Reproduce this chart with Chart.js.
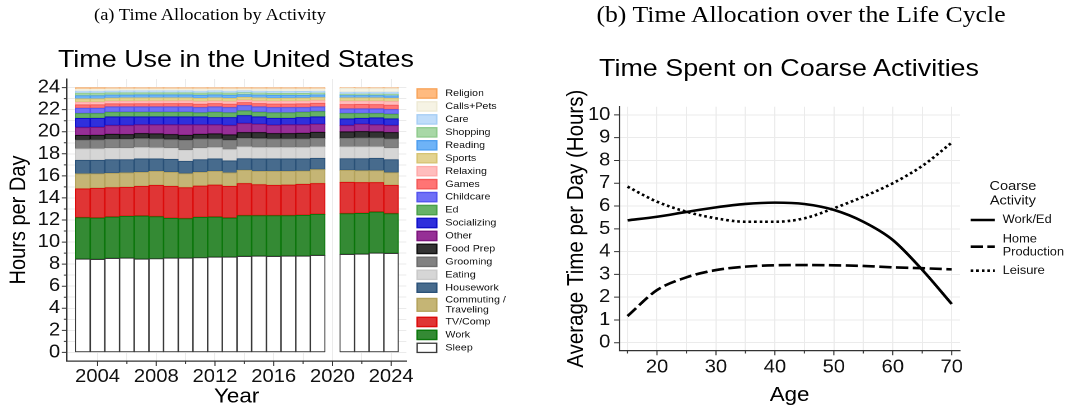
<!DOCTYPE html>
<html>
<head>
<meta charset="utf-8">
<script src="https://cdn.jsdelivr.net/npm/chart.js@4.4.1/dist/chart.umd.min.js"></script>
<style>
  html, body { margin: 0; padding: 0; background: #fff; }
  /* the figure is laid out on a 955px-wide stage and widened to 1070px */
  #stage { position: absolute; left: 0; top: 0; width: 955.36px; height: 412px;
           transform: scaleX(1.12); transform-origin: 0 0; }
  .box { position: absolute; top: 0; height: 412px; }
  .t { position: absolute; white-space: nowrap; text-align: center; color: #000; width: 500px; }
  .sub { font-family: "Liberation Serif", "DejaVu Serif", serif; }
  .subA { font-size: 16.5px; line-height: 16.5px; }
  .subB { font-size: 23px; line-height: 23px; }
  .ttl { font-family: "Liberation Sans", Arial, sans-serif; font-size: 24px; line-height: 24px; }
</style>
</head>
<body>
<div id="stage">
  <div class="box" style="left:0; width:477.7px;"><canvas id="useChart"></canvas></div>
  <div class="box" style="left:477.7px; width:477.7px;"><canvas id="lifeChart"></canvas></div>
  <div class="t sub subA" style="left:-62.5px; top:7.2px;">(a) Time Allocation by Activity</div>
  <div class="t sub subB" style="left:465.2px; top:2.8px;">(b) Time Allocation over the Life Cycle</div>
  <div class="t ttl" style="left:-39.3px; top:46.7px;">Time Use in the United States</div>
  <div class="t ttl" style="left:454.5px; top:55.7px;">Time Spent on Coarse Activities</div>
</div>
<script>
// ---------- (a) hours per day by activity, ATUS survey years ----------
const years = [2003, 2004, 2005, 2006, 2007, 2008, 2009, 2010, 2011, 2012, 2013,
               2014, 2015, 2016, 2017, 2018, 2019, 2021, 2022, 2023, 2024];

const sleep       = [8.47, 8.44, 8.53, 8.56, 8.47, 8.50, 8.56, 8.56, 8.59, 8.65, 8.65, 8.71, 8.74, 8.71, 8.74, 8.74, 8.80, 8.89, 8.92, 9.01, 8.98];
const work        = [3.75, 3.75, 3.75, 3.78, 3.90, 3.81, 3.60, 3.57, 3.66, 3.63, 3.54, 3.69, 3.66, 3.69, 3.66, 3.69, 3.72, 3.69, 3.69, 3.72, 3.60];
const tvComp      = [2.60, 2.69, 2.66, 2.63, 2.69, 2.84, 2.90, 2.81, 2.84, 2.90, 2.87, 2.91, 2.81, 2.75, 2.78, 2.82, 2.79, 2.85, 2.79, 2.67, 2.57];
const commuting   = [1.36, 1.32, 1.30, 1.30, 1.27, 1.27, 1.27, 1.27, 1.24, 1.24, 1.21, 1.21, 1.21, 1.27, 1.24, 1.20, 1.27, 1.07, 1.08, 1.08, 1.15];
const housework   = [1.24, 1.22, 1.24, 1.21, 1.21, 1.12, 1.18, 1.12, 1.15, 1.12, 1.09, 1.05, 1.12, 1.12, 1.12, 1.09, 1.02, 1.07, 1.09, 1.12, 1.18];
const eating      = [1.03, 1.03, 1.03, 1.03, 1.03, 1.00, 1.00, 1.00, 1.03, 1.03, 1.03, 1.06, 1.03, 1.03, 1.03, 1.03, 1.03, 1.06, 1.06, 1.03, 1.03];
const grooming    = [0.80, 0.82, 0.82, 0.82, 0.82, 0.82, 0.79, 0.91, 0.85, 0.79, 0.85, 0.79, 0.82, 0.79, 0.79, 0.79, 0.79, 0.79, 0.82, 0.82, 0.85];
const foodPrep    = [0.42, 0.42, 0.45, 0.42, 0.45, 0.45, 0.45, 0.45, 0.42, 0.45, 0.48, 0.51, 0.54, 0.48, 0.48, 0.51, 0.54, 0.57, 0.57, 0.54, 0.57];
const other       = [0.72, 0.71, 0.79, 0.82, 0.79, 0.82, 0.88, 0.94, 0.85, 0.82, 0.85, 0.82, 0.76, 0.76, 0.79, 0.76, 0.73, 0.58, 0.67, 0.64, 0.64];
const socializing = [0.83, 0.83, 0.78, 0.78, 0.72, 0.72, 0.72, 0.72, 0.72, 0.66, 0.72, 0.73, 0.66, 0.63, 0.60, 0.66, 0.66, 0.60, 0.54, 0.63, 0.60];
const ed          = [0.44, 0.43, 0.43, 0.43, 0.43, 0.43, 0.43, 0.43, 0.37, 0.49, 0.43, 0.42, 0.43, 0.49, 0.49, 0.49, 0.49, 0.49, 0.43, 0.40, 0.43];
const childcare   = [0.48, 0.48, 0.48, 0.48, 0.48, 0.48, 0.48, 0.48, 0.48, 0.48, 0.48, 0.48, 0.48, 0.48, 0.48, 0.42, 0.42, 0.42, 0.42, 0.42, 0.42];
const games       = [0.30, 0.31, 0.28, 0.28, 0.29, 0.29, 0.30, 0.30, 0.31, 0.30, 0.31, 0.27, 0.30, 0.32, 0.32, 0.33, 0.33, 0.39, 0.40, 0.39, 0.40];
const relaxing    = [0.24, 0.24, 0.23, 0.23, 0.23, 0.24, 0.23, 0.24, 0.24, 0.23, 0.24, 0.21, 0.23, 0.24, 0.25, 0.25, 0.25, 0.31, 0.30, 0.31, 0.32];
const sports      = [0.31, 0.30, 0.29, 0.30, 0.29, 0.29, 0.29, 0.28, 0.29, 0.29, 0.29, 0.27, 0.28, 0.28, 0.28, 0.28, 0.27, 0.30, 0.30, 0.30, 0.31];
const reading     = [0.29, 0.29, 0.27, 0.26, 0.27, 0.26, 0.26, 0.26, 0.27, 0.26, 0.27, 0.24, 0.26, 0.26, 0.25, 0.24, 0.23, 0.21, 0.21, 0.21, 0.22];
const shopping    = [0.22, 0.22, 0.20, 0.21, 0.20, 0.20, 0.20, 0.20, 0.20, 0.20, 0.20, 0.18, 0.19, 0.19, 0.19, 0.18, 0.17, 0.12, 0.13, 0.13, 0.14];
const care        = [0.18, 0.18, 0.17, 0.17, 0.17, 0.17, 0.17, 0.17, 0.18, 0.17, 0.18, 0.16, 0.17, 0.18, 0.18, 0.18, 0.17, 0.18, 0.18, 0.18, 0.19];
const callsPets   = [0.20, 0.20, 0.19, 0.18, 0.18, 0.18, 0.18, 0.18, 0.20, 0.18, 0.20, 0.19, 0.20, 0.22, 0.22, 0.23, 0.22, 0.34, 0.32, 0.32, 0.32];
const religion    = [0.12, 0.12, 0.11, 0.11, 0.11, 0.11, 0.11, 0.11, 0.11, 0.11, 0.11, 0.10, 0.11, 0.11, 0.11, 0.11, 0.10, 0.07, 0.08, 0.08, 0.08];

const hourTicks = [0, 1, 2, 3, 4, 5, 6, 7, 8, 9, 10, 11, 12, 13, 14, 15, 16, 17, 18, 19, 20, 21, 22, 23, 24];
const yearTicks = [2004, 2006, 2008, 2010, 2012, 2014, 2016, 2018, 2020, 2022, 2024];

// ---------- (b) life-cycle profiles, hours per day by age ----------
const ages           = [15, 20, 25, 30, 35, 40, 45, 50, 55, 60, 65, 70];
const workEd         = [5.37, 5.53, 5.74, 5.94, 6.09, 6.15, 6.09, 5.83, 5.31, 4.51, 3.20, 1.70];
const homeProduction = [1.17, 2.31, 2.87, 3.19, 3.34, 3.40, 3.41, 3.40, 3.37, 3.31, 3.27, 3.22];
const leisure        = [6.85, 6.19, 5.75, 5.46, 5.31, 5.31, 5.46, 5.90, 6.41, 7.00, 7.76, 8.78];

const levelTicks = [0, 1, 2, 3, 4, 5, 6, 7, 8, 9, 10];
const ageTicks   = [15, 20, 25, 30, 35, 40, 45, 50, 55, 60, 65, 70];

// ---------- styling ----------
const SANS = '"Liberation Sans", Arial, Helvetica, sans-serif';
Chart.defaults.font.family = SANS;
Chart.defaults.color = '#111';
const GRID = '#ebebeb';
const AXIS = '#333';

// stacking order, bottom to top
const activities = [
  { label: 'Sleep',       data: sleep,       fill: '#ffffff', line: '#3a3a3a' },
  { label: 'Work',        data: work,        fill: '#348a34', line: '#0b760b' },
  { label: 'TV/Comp',     data: tvComp,      fill: '#e03535', line: '#dc0c0c' },
  { label: 'Commuting / Traveling', lines: ['Commuting /', 'Traveling'],
                          data: commuting,   fill: '#c5b575', line: '#b3a25c' },
  { label: 'Housework',   data: housework,   fill: '#476b8d', line: '#2a5178' },
  { label: 'Eating',      data: eating,      fill: '#d6d6d6', line: '#c9c9c9' },
  { label: 'Grooming',    data: grooming,    fill: '#818181', line: '#6c6c6c' },
  { label: 'Food Prep',   data: foodPrep,    fill: '#333333', line: '#111111' },
  { label: 'Other',       data: other,       fill: '#962f96', line: '#7c157c' },
  { label: 'Socializing', data: socializing, fill: '#2f2fdc', line: '#1010c8' },
  { label: 'Ed',          data: ed,          fill: '#66b266', line: '#4a9f4a' },
  { label: 'Childcare',   data: childcare,   fill: '#7070f7', line: '#5454ee' },
  { label: 'Games',       data: games,       fill: '#ff7474', line: '#f35a5a' },
  { label: 'Relaxing',    data: relaxing,    fill: '#ffbdbd', line: '#ffaaaa' },
  { label: 'Sports',      data: sports,      fill: '#e3d391', line: '#d6c473' },
  { label: 'Reading',     data: reading,     fill: '#6eb3f7', line: '#4f9fef' },
  { label: 'Shopping',    data: shopping,    fill: '#a8d8a6', line: '#90cb8e' },
  { label: 'Care',        data: care,        fill: '#c0ddfa', line: '#a8cff5' },
  { label: 'Calls+Pets',  data: callsPets,   fill: '#f6f3e4', line: '#eeead6' },
  { label: 'Religion',    data: religion,    fill: '#ffbb80', line: '#f7a55c' }
];

// short tick marks outside the axes (long on labelled values, short between)
const tickMarks = {
  id: 'tickMarks',
  afterDraw(chart, args, opts) {
    const { ctx, chartArea: a, scales: { x, y } } = chart;
    ctx.save();
    ctx.strokeStyle = AXIS;
    ctx.lineWidth = 1;
    ctx.beginPath();
    opts.x.forEach(t => {
      const px = x.getPixelForValue(t.v);
      ctx.moveTo(px, a.bottom); ctx.lineTo(px, a.bottom + t.len);
    });
    opts.y.forEach(t => {
      const py = y.getPixelForValue(t.v);
      ctx.moveTo(a.left, py); ctx.lineTo(a.left - t.len, py);
    });
    ctx.stroke();
    ctx.restore();
  }
};

// blank strip for the year without a survey, keeping its vertical grid line
const yearGap = {
  id: 'yearGap',
  beforeDatasetsDraw(chart, args, opts) {
    const { ctx, chartArea: a, scales: { x } } = chart;
    const l = x.getPixelForValue(opts.year - 0.5);
    const r = x.getPixelForValue(opts.year + 0.5);
    const c = x.getPixelForValue(opts.year);
    ctx.save();
    ctx.fillStyle = '#fff';
    ctx.fillRect(l, a.top, r - l, a.bottom - a.top - 1);
    ctx.strokeStyle = GRID;
    ctx.lineWidth = 1;
    ctx.beginPath(); ctx.moveTo(c, a.top); ctx.lineTo(c, a.bottom - 1); ctx.stroke();
    ctx.restore();
  }
};

// activity key, top of the stack first
const stackLegend = {
  id: 'stackLegend',
  afterDraw(chart, args, o) {
    const ctx = chart.ctx;
    ctx.save();
    ctx.font = o.fontSize + 'px ' + SANS;
    ctx.textBaseline = 'middle';
    ctx.textAlign = 'left';
    const items = chart.data.datasets.slice().reverse();
    let cy = o.top, prevTall = false;
    items.forEach((ds, i) => {
      const lines = ds.legendLines || [ds.label];
      const tall = lines.length > 1;
      if (i > 0) cy += (tall || prevTall) ? o.tallStep : o.step;
      const h = tall ? o.tallBox : o.box;
      ctx.fillStyle = ds.backgroundColor;
      ctx.fillRect(o.x, cy - h / 2, o.boxWidth, h);
      ctx.strokeStyle = ds.borderColor;
      ctx.lineWidth = 1.3;
      ctx.strokeRect(o.x + 0.65, cy - h / 2 + 0.65, o.boxWidth - 1.3, h - 1.3);
      ctx.fillStyle = '#111';
      lines.forEach((s, k) => {
        ctx.fillText(s, o.textX, cy + (k - (lines.length - 1) / 2) * o.lineGap);
      });
      prevTall = tall;
    });
    ctx.restore();
  }
};

// line-type key for the life-cycle panel
const lineLegend = {
  id: 'lineLegend',
  afterDraw(chart, args, o) {
    const ctx = chart.ctx;
    ctx.save();
    ctx.fillStyle = '#111';
    ctx.textBaseline = 'middle';
    ctx.textAlign = 'center';
    ctx.font = o.titleSize + 'px ' + SANS;
    o.title.forEach((s, k) => ctx.fillText(s, o.titleX, o.titleY + k * o.titleGap));
    ctx.textAlign = 'left';
    ctx.font = o.fontSize + 'px ' + SANS;
    chart.data.datasets.forEach((ds, i) => {
      const it = o.items[i];
      ctx.strokeStyle = ds.borderColor;
      ctx.lineWidth = ds.borderWidth;
      ctx.lineCap = 'butt';
      ctx.setLineDash(ds.borderDash || []);
      ctx.beginPath(); ctx.moveTo(o.x0, it.lineY); ctx.lineTo(o.x1, it.lineY); ctx.stroke();
      ctx.setLineDash([]);
      const lines = ds.legendLines || [ds.label];
      lines.forEach((s, k) => {
        ctx.fillText(s, o.textX, it.textY + (k - (lines.length - 1) / 2) * o.lineGap);
      });
    });
    ctx.restore();
  }
};

// ---------- (a) stacked bars ----------
new Chart(document.getElementById('useChart'), {
  type: 'bar',
  data: {
    datasets: activities.map(a => ({
      label: a.label,
      legendLines: a.lines,
      data: years.map((yr, i) => ({ x: yr, y: a.data[i] })),
      backgroundColor: a.fill,
      borderColor: a.line,
      borderWidth: 1,
      borderSkipped: false,
      barPercentage: 1,
      categoryPercentage: 1
    }))
  },
  options: {
    responsive: true,
    maintainAspectRatio: false,
    animation: false,
    devicePixelRatio: 2,
    layout: { padding: { top: 79, right: 115.2, bottom: 0, left: 0 } },
    plugins: {
      legend: { display: false },
      tooltip: { enabled: false },
      title: { display: false },
      yearGap: { year: 2020 },
      tickMarks: {
        x: yearTicks.map(v => ({ v, len: v % 4 === 0 ? 5 : 3 })),
        y: hourTicks.map(v => ({ v, len: v % 2 === 0 ? 4.5 : 2.7 }))
      },
      stackLegend: {
        x: 371.4, boxWidth: 18.75, box: 10.5, tallBox: 14,
        textX: 397.3, top: 93.5, step: 12.95, tallStep: 17.1,
        fontSize: 9.5, lineGap: 10
      }
    },
    scales: {
      x: {
        type: 'linear', stacked: true, offset: false,
        min: 2001.91, max: 2025.04,
        afterBuildTicks: s => { s.ticks = yearTicks.map(v => ({ value: v })); },
        afterFit: s => { s.height = 51; },
        grid: { color: GRID, lineWidth: 1, drawTicks: false, offset: false },
        border: { display: true, color: AXIS, width: 1.2 },
        ticks: { autoSkip: false, maxRotation: 0, padding: 5, font: { size: 18 },
                 callback: v => (v % 4 === 0 ? String(v) : '') },
        title: { display: true, text: 'Year', color: '#000', font: { size: 20 },
                 padding: { top: 0, bottom: 3 } }
      },
      y: {
        stacked: true, min: -0.78, max: 24.78,
        afterBuildTicks: s => { s.ticks = hourTicks.map(v => ({ value: v })); },
        afterFit: s => { s.width = 59.6; },
        grid: { color: GRID, lineWidth: 1, drawTicks: false },
        border: { display: true, color: AXIS, width: 1.2 },
        ticks: { autoSkip: false, padding: 6, font: { size: 18 },
                 callback: v => (v % 2 === 0 ? String(v) : '') },
        title: { display: true, text: 'Hours per Day', color: '#000', font: { size: 20 },
                 padding: { top: 5, bottom: 0 } }
      }
    }
  },
  plugins: [yearGap, tickMarks, stackLegend]
});

// ---------- (b) life-cycle lines ----------
new Chart(document.getElementById('lifeChart'), {
  type: 'line',
  data: {
    datasets: [
      { label: 'Work/Ed', data: ages.map((a, i) => ({ x: a, y: workEd[i] })),
        borderColor: '#000', borderWidth: 2.6, borderDash: [] },
      { label: 'Home Production', legendLines: ['Home', 'Production'],
        data: ages.map((a, i) => ({ x: a, y: homeProduction[i] })),
        borderColor: '#000', borderWidth: 2.6, borderDash: [11, 4] },
      { label: 'Leisure', data: ages.map((a, i) => ({ x: a, y: leisure[i] })),
        borderColor: '#000', borderWidth: 2.6, borderDash: [2.4, 2.6] }
    ].map(d => Object.assign(d, {
      pointRadius: 0, fill: false, tension: 0.4,
      cubicInterpolationMode: 'monotone', borderCapStyle: 'butt'
    }))
  },
  options: {
    responsive: true,
    maintainAspectRatio: false,
    animation: false,
    devicePixelRatio: 2,
    layout: { padding: { top: 106.7, right: 98.2, bottom: 0, left: 0 } },
    plugins: {
      legend: { display: false },
      tooltip: { enabled: false },
      title: { display: false },
      tickMarks: {
        x: ageTicks.map(v => ({ v, len: v % 10 === 0 ? 4.5 : 2.8 })),
        y: levelTicks.map(v => ({ v, len: 4.5 }))
      },
      lineLegend: {
        title: ['Coarse', 'Activity'], titleX: 426.8, titleY: 186.5, titleGap: 14.5, titleSize: 13,
        x0: 389.0, x1: 410.7, textX: 417.6, fontSize: 11.5, lineGap: 13,
        items: [ { lineY: 220, textY: 220 }, { lineY: 246.7, textY: 245.8 }, { lineY: 270.7, textY: 270.7 } ]
      }
    },
    scales: {
      x: {
        type: 'linear', min: 13.6, max: 71.4,
        afterBuildTicks: s => { s.ticks = ageTicks.map(v => ({ value: v })); },
        afterFit: s => { s.height = 61.3; },
        grid: { color: GRID, lineWidth: 1, drawTicks: false },
        border: { display: true, color: AXIS, width: 1.2 },
        ticks: { autoSkip: false, maxRotation: 0, padding: 6, font: { size: 18 },
                 callback: v => (v % 10 === 0 ? String(v) : '') },
        title: { display: true, text: 'Age', color: '#000', font: { size: 20 },
                 padding: { top: 0, bottom: 4.5 } }
      },
      y: {
        min: -0.35, max: 10.36,
        afterBuildTicks: s => { s.ticks = levelTicks.map(v => ({ value: v })); },
        afterFit: s => { s.width = 75; },
        grid: { color: GRID, lineWidth: 1, drawTicks: false },
        border: { display: true, color: AXIS, width: 1.2 },
        ticks: { autoSkip: false, padding: 8, font: { size: 18 } },
        title: { display: true, text: 'Average Time per Day (Hours)', color: '#000',
                 font: { size: 20.5 }, padding: { top: 24.5, bottom: 0 } }
      }
    }
  },
  plugins: [tickMarks, lineLegend]
});
</script>
</body>
</html>
